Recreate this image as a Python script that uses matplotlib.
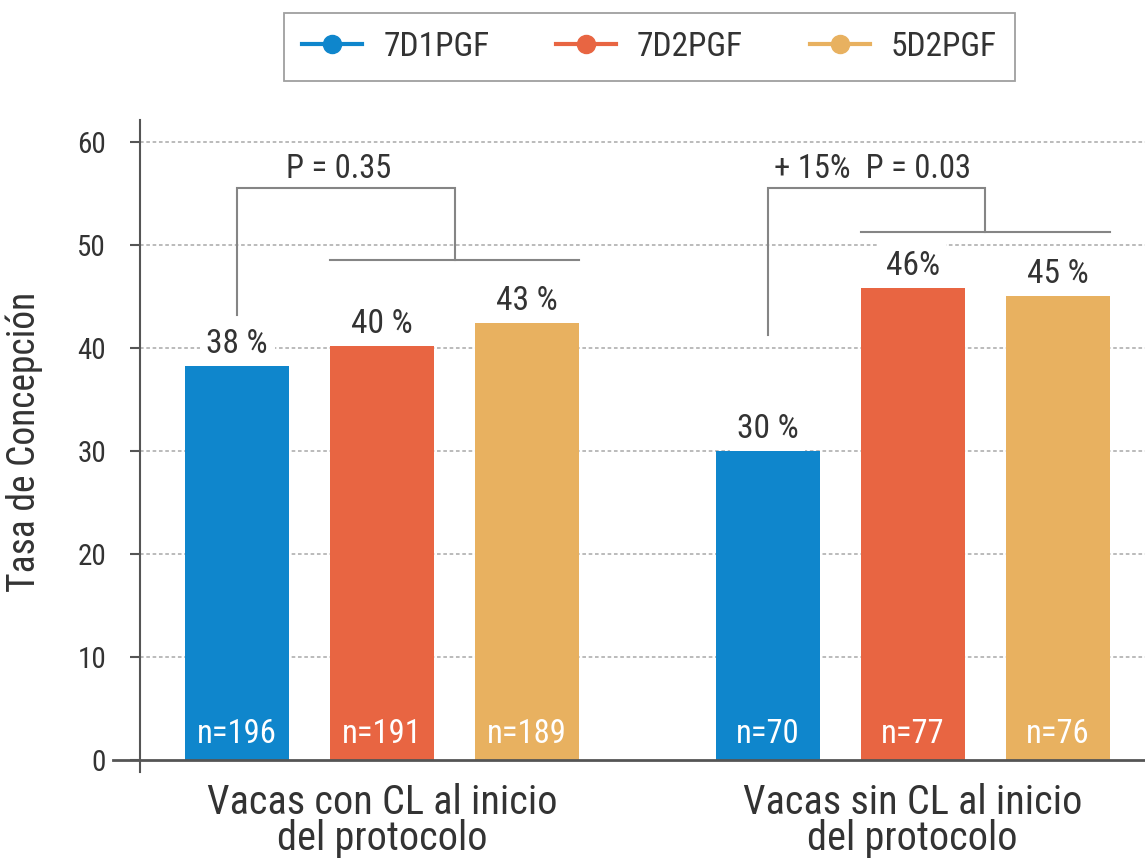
import numpy as np
import matplotlib
matplotlib.use("Agg")
import matplotlib.pyplot as plt
from matplotlib import font_manager

# ---------------- data ----------------
groups = ["Vacas con CL al inicio\ndel protocolo", "Vacas sin CL al inicio\ndel protocolo"]
series = ["7D1PGF", "7D2PGF", "5D2PGF"]
rate_7d1 = [38.2, 30.0]
rate_7d2 = [40.2, 45.8]
rate_5d2 = [42.4, 45.0]
pct_labels_7d1 = ["38 %", "30 %"]
pct_labels_7d2 = ["40 %", "46%"]
pct_labels_5d2 = ["43 %", "45 %"]
n_7d1 = ["n=196", "n=70"]
n_7d2 = ["n=191", "n=77"]
n_5d2 = ["n=189", "n=76"]
p_labels = ["P = 0.35", "+ 15%  P = 0.03"]
bracket_top = [55.5, 55.5]
bracket_left_bottom = [43.2, 41.3]
bracket_right_bottom = [48.5, 51.3]
p_label_y = [56.5, 56.5]
yticks = [0, 10, 20, 30, 40, 50, 60]

colors = ["#0f86cc", "#e86542", "#e8b160"]
text_color = "#333333"
grey = "#858585"

# font choice: prefer a condensed face
entries = font_manager.fontManager.ttflist
chosen = None
for nm in ["Roboto Condensed", "Liberation Sans Narrow", "Open Sans Condensed", "Noto Sans Condensed"]:
    if any(e.name == nm for e in entries):
        chosen = (nm, "normal")
        break
if chosen is None:
    for nm in ["Roboto", "Noto Sans", "Open Sans", "DejaVu Sans"]:
        if any(e.name == nm and str(e.stretch) in ("condensed", "semi-condensed") for e in entries):
            chosen = (nm, "condensed")
            break
if chosen is None:
    chosen = ("Roboto", "normal")
plt.rcParams["font.family"] = [chosen[0], "DejaVu Sans"]
plt.rcParams["font.stretch"] = chosen[1]

fig = plt.figure(figsize=(11.45, 8.59), dpi=100)
ax = fig.add_axes([0.1223, 0.1013, 0.8777, 0.7585])

group_pos = np.array([0.0, 3.66])
offsets = np.array([-1.0, 0.0, 1.0])
width = 0.72
values = [rate_7d1, rate_7d2, rate_5d2]
pct = [pct_labels_7d1, pct_labels_7d2, pct_labels_5d2]
ns = [n_7d1, n_7d2, n_5d2]

for i, (vals, c) in enumerate(zip(values, colors)):
    xs = group_pos + offsets[i]
    ax.bar(xs, vals, width=width, color=c, zorder=3)
    for x, v, lab, n in zip(xs, vals, pct[i], ns[i]):
        ax.annotate(lab, (x, v), xytext=(0, 9.5), textcoords="offset points",
                    ha="center", va="baseline", fontsize=24, color=text_color, zorder=2,
                    bbox=dict(boxstyle="square,pad=0.2", fc="white", ec="none"))
        ax.text(x, 1.65, n, ha="center", va="baseline", fontsize=23.5, color="white", zorder=4)

# brackets
for g, gp in enumerate(group_pos):
    xl = gp + offsets[0]
    xr = gp + (offsets[1] + offsets[2]) / 2
    ax.plot([xl, xl, xr, xr], [bracket_left_bottom[g], bracket_top[g], bracket_top[g], bracket_right_bottom[g]],
            color=grey, lw=1.5, zorder=5, solid_joinstyle="miter")
    ax.plot([gp + offsets[1] - width / 2, gp + offsets[2] + width / 2],
            [bracket_right_bottom[g]] * 2, color=grey, lw=1.5, zorder=5)
ax.text(group_pos[0] - 0.297, p_label_y[0], p_labels[0], ha="center", va="baseline",
        fontsize=23.5, color=text_color)
ax.text(group_pos[1] - 0.28, p_label_y[1], p_labels[1], ha="center", va="baseline",
        fontsize=23.5, color=text_color)

ax.set_xlim(-1.669, 5.262)
ax.set_ylim(-1.2, 62.1)
ax.set_yticks(yticks)
ax.set_xticks(group_pos)
ax.set_xticklabels(groups, fontsize=29, color=text_color, linespacing=0.9)
ax.tick_params(axis="x", length=0, pad=8)
ax.tick_params(axis="y", length=7.5, width=1.5, color="#555555", labelsize=21,
               labelcolor=text_color, pad=17, direction="out")
for s in ["top", "right", "bottom"]:
    ax.spines[s].set_visible(False)
ax.spines["left"].set_color("#555555")
ax.spines["left"].set_linewidth(1.5)
for y in yticks[1:]:
    ax.axhline(y, color="#b5b5b5", lw=1.3, ls=(0, (2, 1.5)), zorder=1)
ax.axhline(0, xmin=-0.027, xmax=1, color="#555555", lw=2, zorder=6, clip_on=False)
ax.set_ylabel("Tasa de Concepción", fontsize=27, color=text_color)
ax.yaxis.set_label_coords(-0.097, 0.506)

handles = [plt.Line2D([], [], color=c, lw=3, marker="o", markersize=13) for c in colors]
leg = fig.legend(handles, series, loc="center", bbox_to_anchor=(0.5672, 0.9453), ncol=3,
                 fontsize=24, frameon=True, fancybox=False, edgecolor="#888888",
                 handlelength=1.8, columnspacing=2.0, handletextpad=0.63,
                 borderpad=0.55, labelcolor=text_color)
leg.get_frame().set_linewidth(1.3)

fig.savefig("out.png", dpi=100)
